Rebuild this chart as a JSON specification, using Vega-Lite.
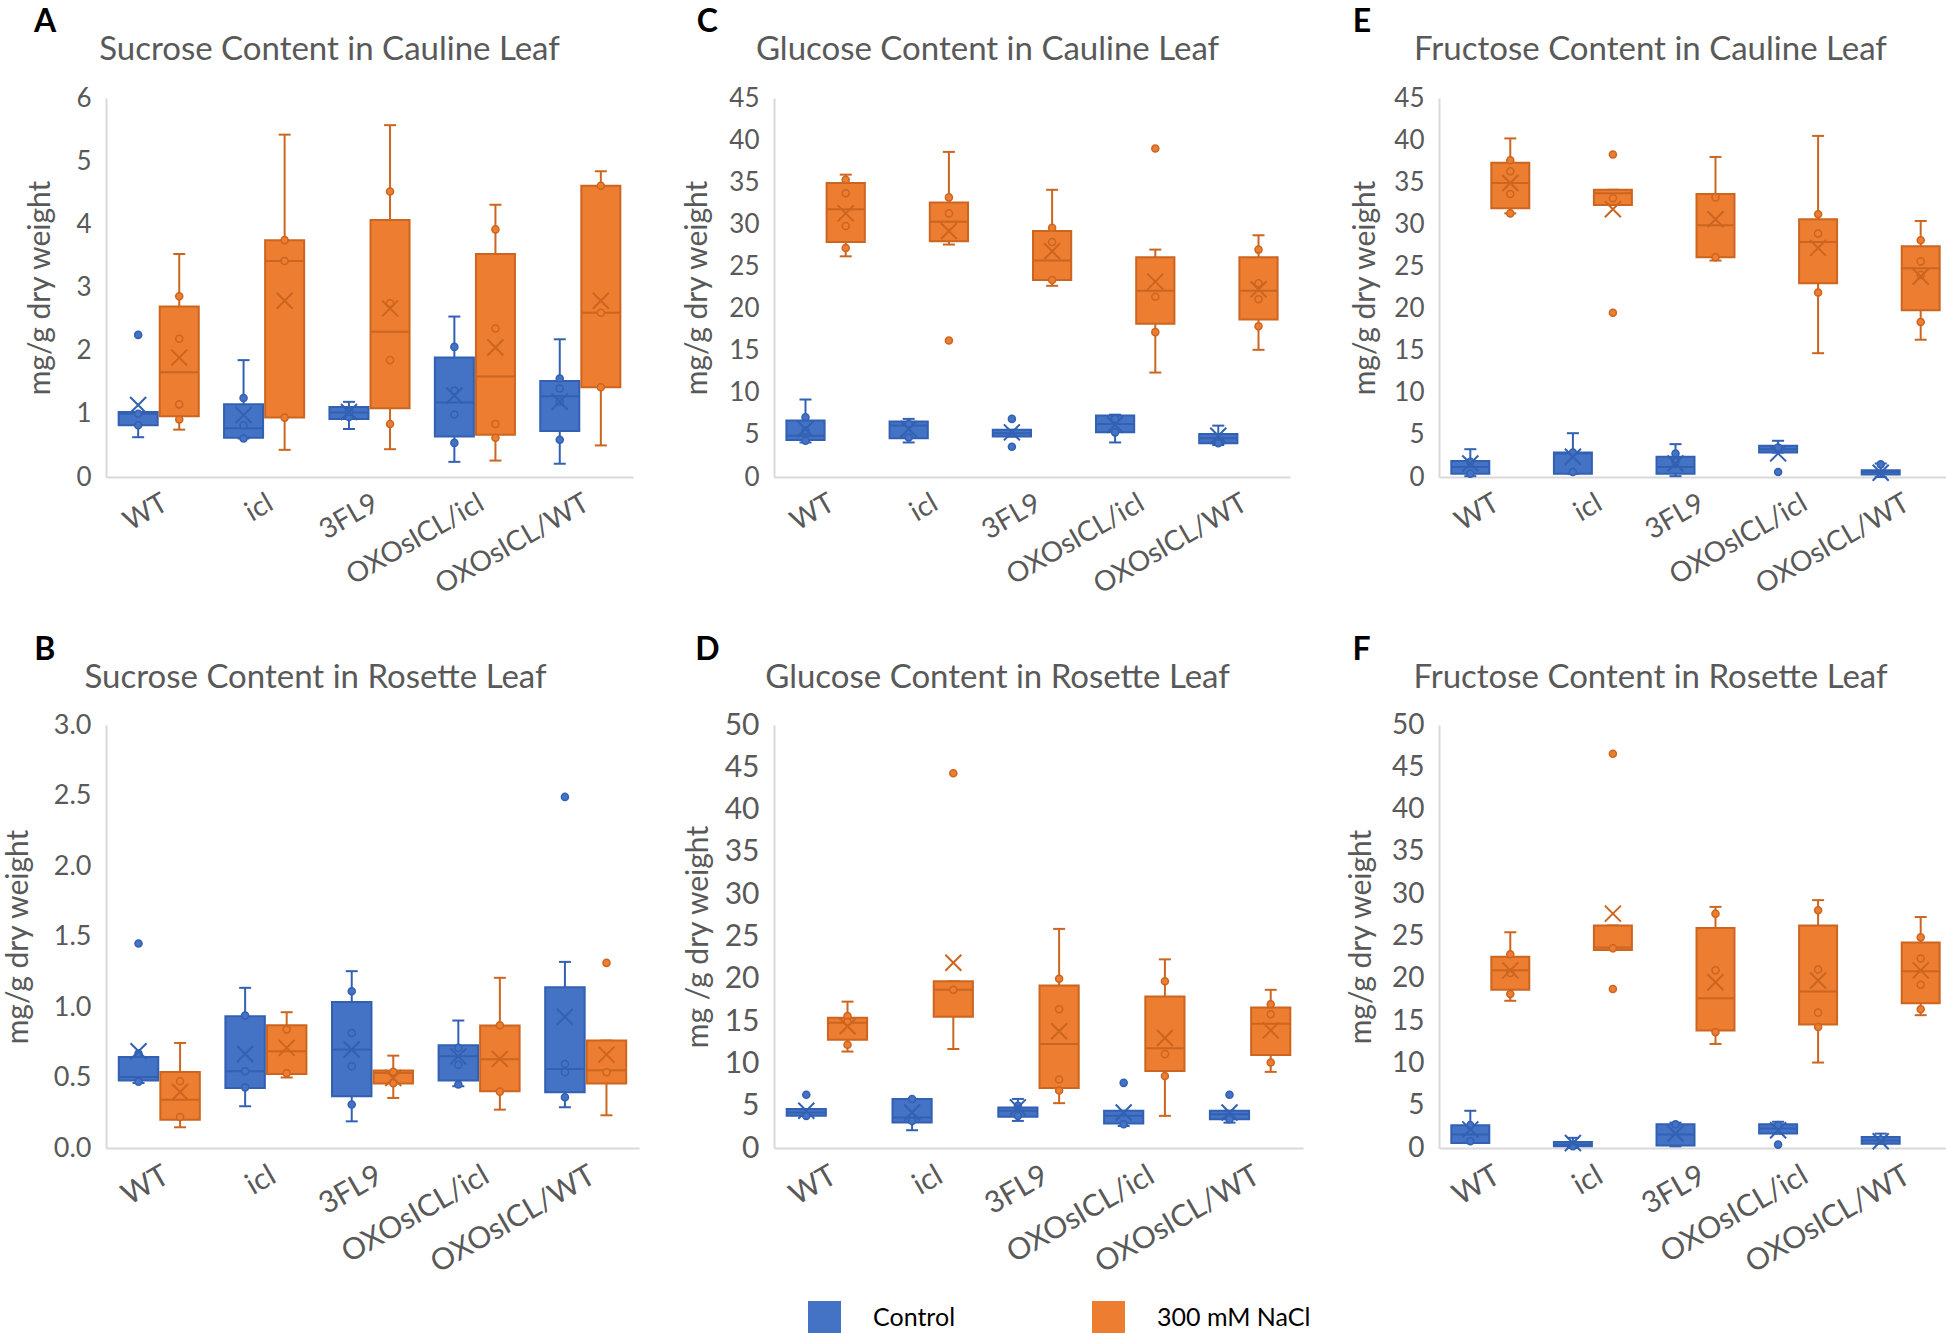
{
"$schema":"https://vega.github.io/schema/vega-lite/v6.json",
"padding":{"left":3,"top":6,"right":0,"bottom":60},
"autosize":{"type":"pad"},
"config":{
 "font":"Lato",
 "view":{"stroke":null},
 "axis":{"domainColor":"#D9D9D9","domainWidth":2,"ticks":false,"grid":false,"labelColor":"#595959","titleColor":"#595959","titleFontWeight":"normal","titleFontSize":30,"labelPadding":15},
 "axisX":{"labelAngle":-30,"labelFontSize":28,"labelOverlap":false,"labelLimit":400,"labelPadding":12}
},
"datasets":{
"boxes":[
{"p":"A","g":"WT","t":"Control","lo":0.63,"q1":0.82,"md":1.0,"q3":1.03,"hi":1.03,"mn":1.14},
{"p":"A","g":"WT","t":"300 mM NaCl","lo":0.75,"q1":0.96,"md":1.66,"q3":2.70,"hi":3.53,"mn":1.89},
{"p":"A","g":"icl","t":"Control","lo":0.61,"q1":0.62,"md":0.77,"q3":1.15,"hi":1.85,"mn":0.98},
{"p":"A","g":"icl","t":"300 mM NaCl","lo":0.43,"q1":0.94,"md":3.42,"q3":3.75,"hi":5.42,"mn":2.79},
{"p":"A","g":"3FL9","t":"Control","lo":0.76,"q1":0.92,"md":1.02,"q3":1.11,"hi":1.19,"mn":1.03},
{"p":"A","g":"3FL9","t":"300 mM NaCl","lo":0.44,"q1":1.09,"md":2.30,"q3":4.07,"hi":5.57,"mn":2.67},
{"p":"A","g":"OXOsICL/icl","t":"Control","lo":0.24,"q1":0.64,"md":1.18,"q3":1.89,"hi":2.54,"mn":1.29},
{"p":"A","g":"OXOsICL/icl","t":"300 mM NaCl","lo":0.26,"q1":0.67,"md":1.59,"q3":3.53,"hi":4.31,"mn":2.05},
{"p":"A","g":"OXOsICL/WT","t":"Control","lo":0.21,"q1":0.73,"md":1.28,"q3":1.52,"hi":2.18,"mn":1.19},
{"p":"A","g":"OXOsICL/WT","t":"300 mM NaCl","lo":0.50,"q1":1.42,"md":2.60,"q3":4.61,"hi":4.84,"mn":2.79},
{"p":"C","g":"WT","t":"Control","lo":4.1,"q1":4.4,"md":4.9,"q3":6.7,"hi":9.2,"mn":5.7},
{"p":"C","g":"WT","t":"300 mM NaCl","lo":26.2,"q1":27.9,"md":31.8,"q3":34.9,"hi":35.9,"mn":31.3},
{"p":"C","g":"icl","t":"Control","lo":4.1,"q1":4.6,"md":6.1,"q3":6.6,"hi":6.9,"mn":5.7},
{"p":"C","g":"icl","t":"300 mM NaCl","lo":27.6,"q1":28.0,"md":30.3,"q3":32.6,"hi":38.6,"mn":29.2},
{"p":"C","g":"3FL9","t":"Control","lo":4.8,"q1":4.8,"md":5.2,"q3":5.6,"hi":5.6,"mn":5.3},
{"p":"C","g":"3FL9","t":"300 mM NaCl","lo":22.7,"q1":23.4,"md":25.7,"q3":29.2,"hi":34.1,"mn":26.8},
{"p":"C","g":"OXOsICL/icl","t":"Control","lo":4.1,"q1":5.3,"md":6.3,"q3":7.3,"hi":7.4,"mn":6.2},
{"p":"C","g":"OXOsICL/icl","t":"300 mM NaCl","lo":12.4,"q1":18.2,"md":22.1,"q3":26.1,"hi":27.0,"mn":23.2},
{"p":"C","g":"OXOsICL/WT","t":"Control","lo":3.8,"q1":4.0,"md":4.6,"q3":5.1,"hi":6.1,"mn":4.9},
{"p":"C","g":"OXOsICL/WT","t":"300 mM NaCl","lo":15.1,"q1":18.7,"md":22.1,"q3":26.1,"hi":28.7,"mn":22.3},
{"p":"E","g":"WT","t":"Control","lo":0.1,"q1":0.4,"md":1.2,"q3":1.9,"hi":3.3,"mn":1.6},
{"p":"E","g":"WT","t":"300 mM NaCl","lo":31.3,"q1":31.9,"md":34.9,"q3":37.3,"hi":40.2,"mn":34.9},
{"p":"E","g":"icl","t":"Control","lo":0.4,"q1":0.4,"md":2.8,"q3":2.9,"hi":5.2,"mn":2.4},
{"p":"E","g":"icl","t":"300 mM NaCl","lo":32.3,"q1":32.3,"md":33.7,"q3":34.1,"hi":34.1,"mn":31.8},
{"p":"E","g":"3FL9","t":"Control","lo":0.1,"q1":0.4,"md":1.2,"q3":2.4,"hi":3.9,"mn":1.6},
{"p":"E","g":"3FL9","t":"300 mM NaCl","lo":25.7,"q1":26.1,"md":29.9,"q3":33.6,"hi":38.0,"mn":30.6},
{"p":"E","g":"OXOsICL/icl","t":"Control","lo":2.9,"q1":2.9,"md":3.3,"q3":3.7,"hi":4.3,"mn":2.8},
{"p":"E","g":"OXOsICL/icl","t":"300 mM NaCl","lo":14.7,"q1":23.0,"md":27.9,"q3":30.6,"hi":40.5,"mn":27.2},
{"p":"E","g":"OXOsICL/WT","t":"Control","lo":0.0,"q1":0.3,"md":0.6,"q3":0.8,"hi":1.6,"mn":0.5},
{"p":"E","g":"OXOsICL/WT","t":"300 mM NaCl","lo":16.3,"q1":19.8,"md":24.8,"q3":27.4,"hi":30.4,"mn":23.8},
{"p":"B","g":"WT","t":"Control","lo":0.461,"q1":0.478,"md":0.504,"q3":0.646,"hi":0.646,"mn":0.686},
{"p":"B","g":"WT","t":"300 mM NaCl","lo":0.147,"q1":0.201,"md":0.343,"q3":0.539,"hi":0.745,"mn":0.397},
{"p":"B","g":"icl","t":"Control","lo":0.296,"q1":0.426,"md":0.544,"q3":0.934,"hi":1.136,"mn":0.667},
{"p":"B","g":"icl","t":"300 mM NaCl","lo":0.50,"q1":0.525,"md":0.686,"q3":0.871,"hi":0.963,"mn":0.71},
{"p":"B","g":"3FL9","t":"Control","lo":0.189,"q1":0.367,"md":0.698,"q3":1.036,"hi":1.254,"mn":0.698},
{"p":"B","g":"3FL9","t":"300 mM NaCl","lo":0.355,"q1":0.457,"md":0.532,"q3":0.549,"hi":0.655,"mn":0.497},
{"p":"B","g":"OXOsICL/icl","t":"Control","lo":0.438,"q1":0.478,"md":0.651,"q3":0.729,"hi":0.904,"mn":0.65},
{"p":"B","g":"OXOsICL/icl","t":"300 mM NaCl","lo":0.272,"q1":0.402,"md":0.63,"q3":0.868,"hi":1.207,"mn":0.632},
{"p":"B","g":"OXOsICL/WT","t":"Control","lo":0.289,"q1":0.395,"md":0.561,"q3":1.14,"hi":1.32,"mn":0.93},
{"p":"B","g":"OXOsICL/WT","t":"300 mM NaCl","lo":0.232,"q1":0.457,"md":0.551,"q3":0.762,"hi":0.762,"mn":0.662},
{"p":"D","g":"WT","t":"Control","lo":3.8,"q1":3.8,"md":4.2,"q3":4.6,"hi":4.6,"mn":4.4},
{"p":"D","g":"WT","t":"300 mM NaCl","lo":11.4,"q1":12.8,"md":14.8,"q3":15.4,"hi":17.3,"mn":14.4},
{"p":"D","g":"icl","t":"Control","lo":2.1,"q1":3.0,"md":3.6,"q3":5.8,"hi":5.8,"mn":4.2},
{"p":"D","g":"icl","t":"300 mM NaCl","lo":11.7,"q1":15.5,"md":18.7,"q3":19.7,"hi":19.7,"mn":21.9},
{"p":"D","g":"3FL9","t":"Control","lo":3.2,"q1":3.7,"md":4.4,"q3":4.8,"hi":5.8,"mn":4.8},
{"p":"D","g":"3FL9","t":"300 mM NaCl","lo":5.3,"q1":7.1,"md":12.3,"q3":19.2,"hi":25.9,"mn":13.8},
{"p":"D","g":"OXOsICL/icl","t":"Control","lo":2.6,"q1":2.9,"md":3.8,"q3":4.4,"hi":4.4,"mn":4.2},
{"p":"D","g":"OXOsICL/icl","t":"300 mM NaCl","lo":3.8,"q1":9.1,"md":11.8,"q3":17.9,"hi":22.3,"mn":13.0},
{"p":"D","g":"OXOsICL/WT","t":"Control","lo":3.0,"q1":3.4,"md":4.0,"q3":4.4,"hi":4.4,"mn":4.2},
{"p":"D","g":"OXOsICL/WT","t":"300 mM NaCl","lo":9.0,"q1":11.0,"md":14.7,"q3":16.6,"hi":18.7,"mn":13.9},
{"p":"F","g":"WT","t":"Control","lo":0.6,"q1":0.6,"md":1.6,"q3":2.7,"hi":4.4,"mn":2.2},
{"p":"F","g":"WT","t":"300 mM NaCl","lo":17.4,"q1":18.7,"md":21.0,"q3":22.6,"hi":25.5,"mn":21.0},
{"p":"F","g":"icl","t":"Control","lo":0.0,"q1":0.2,"md":0.4,"q3":0.7,"hi":1.2,"mn":0.6},
{"p":"F","g":"icl","t":"300 mM NaCl","lo":23.4,"q1":23.4,"md":23.7,"q3":26.3,"hi":26.3,"mn":27.7},
{"p":"F","g":"3FL9","t":"Control","lo":0.2,"q1":0.3,"md":1.6,"q3":2.8,"hi":3.0,"mn":1.7},
{"p":"F","g":"3FL9","t":"300 mM NaCl","lo":12.3,"q1":13.9,"md":17.7,"q3":26.0,"hi":28.5,"mn":19.6},
{"p":"F","g":"OXOsICL/icl","t":"Control","lo":1.7,"q1":1.7,"md":2.3,"q3":2.8,"hi":3.1,"mn":2.1},
{"p":"F","g":"OXOsICL/icl","t":"300 mM NaCl","lo":10.1,"q1":14.6,"md":18.5,"q3":26.3,"hi":29.3,"mn":19.8},
{"p":"F","g":"OXOsICL/WT","t":"Control","lo":0.5,"q1":0.5,"md":0.9,"q3":1.3,"hi":1.7,"mn":0.8},
{"p":"F","g":"OXOsICL/WT","t":"300 mM NaCl","lo":15.7,"q1":17.1,"md":20.9,"q3":24.3,"hi":27.3,"mn":21.0}
],
"points":[
{"p":"A","g":"WT","t":"Control","v":2.25},{"p":"A","g":"WT","t":"Control","v":1.0},{"p":"A","g":"WT","t":"Control","v":0.82},
{"p":"A","g":"WT","t":"300 mM NaCl","v":2.86},{"p":"A","g":"WT","t":"300 mM NaCl","v":2.19},{"p":"A","g":"WT","t":"300 mM NaCl","v":1.15},{"p":"A","g":"WT","t":"300 mM NaCl","v":0.91},
{"p":"A","g":"icl","t":"Control","v":1.25},{"p":"A","g":"icl","t":"Control","v":0.82},{"p":"A","g":"icl","t":"Control","v":0.61},
{"p":"A","g":"icl","t":"300 mM NaCl","v":3.75},{"p":"A","g":"icl","t":"300 mM NaCl","v":3.42},{"p":"A","g":"icl","t":"300 mM NaCl","v":0.94},
{"p":"A","g":"3FL9","t":"Control","v":0.95},{"p":"A","g":"3FL9","t":"Control","v":1.03},
{"p":"A","g":"3FL9","t":"300 mM NaCl","v":4.52},{"p":"A","g":"3FL9","t":"300 mM NaCl","v":2.75},{"p":"A","g":"3FL9","t":"300 mM NaCl","v":1.85},{"p":"A","g":"3FL9","t":"300 mM NaCl","v":0.84},
{"p":"A","g":"OXOsICL/icl","t":"Control","v":2.06},{"p":"A","g":"OXOsICL/icl","t":"Control","v":1.37},{"p":"A","g":"OXOsICL/icl","t":"Control","v":0.99},{"p":"A","g":"OXOsICL/icl","t":"Control","v":0.54},
{"p":"A","g":"OXOsICL/icl","t":"300 mM NaCl","v":3.92},{"p":"A","g":"OXOsICL/icl","t":"300 mM NaCl","v":2.35},{"p":"A","g":"OXOsICL/icl","t":"300 mM NaCl","v":0.84},{"p":"A","g":"OXOsICL/icl","t":"300 mM NaCl","v":0.62},
{"p":"A","g":"OXOsICL/WT","t":"Control","v":1.56},{"p":"A","g":"OXOsICL/WT","t":"Control","v":1.40},{"p":"A","g":"OXOsICL/WT","t":"Control","v":1.19},{"p":"A","g":"OXOsICL/WT","t":"Control","v":0.59},
{"p":"A","g":"OXOsICL/WT","t":"300 mM NaCl","v":4.61},{"p":"A","g":"OXOsICL/WT","t":"300 mM NaCl","v":2.60},{"p":"A","g":"OXOsICL/WT","t":"300 mM NaCl","v":1.42},
{"p":"C","g":"WT","t":"Control","v":7.1},{"p":"C","g":"WT","t":"Control","v":5.5},{"p":"C","g":"WT","t":"Control","v":4.3},
{"p":"C","g":"WT","t":"300 mM NaCl","v":35.3},{"p":"C","g":"WT","t":"300 mM NaCl","v":33.7},{"p":"C","g":"WT","t":"300 mM NaCl","v":29.8},{"p":"C","g":"WT","t":"300 mM NaCl","v":27.2},
{"p":"C","g":"icl","t":"Control","v":6.3},{"p":"C","g":"icl","t":"Control","v":4.7},
{"p":"C","g":"icl","t":"300 mM NaCl","v":33.2},{"p":"C","g":"icl","t":"300 mM NaCl","v":31.3},{"p":"C","g":"icl","t":"300 mM NaCl","v":16.2},
{"p":"C","g":"3FL9","t":"Control","v":6.9},{"p":"C","g":"3FL9","t":"Control","v":3.6},
{"p":"C","g":"3FL9","t":"300 mM NaCl","v":29.6},{"p":"C","g":"3FL9","t":"300 mM NaCl","v":27.9},{"p":"C","g":"3FL9","t":"300 mM NaCl","v":23.4},
{"p":"C","g":"OXOsICL/icl","t":"Control","v":6.9},{"p":"C","g":"OXOsICL/icl","t":"Control","v":5.3},
{"p":"C","g":"OXOsICL/icl","t":"300 mM NaCl","v":39.0},{"p":"C","g":"OXOsICL/icl","t":"300 mM NaCl","v":21.4},{"p":"C","g":"OXOsICL/icl","t":"300 mM NaCl","v":17.2},
{"p":"C","g":"OXOsICL/WT","t":"Control","v":4.0},
{"p":"C","g":"OXOsICL/WT","t":"300 mM NaCl","v":27.0},{"p":"C","g":"OXOsICL/WT","t":"300 mM NaCl","v":23.0},{"p":"C","g":"OXOsICL/WT","t":"300 mM NaCl","v":21.1},{"p":"C","g":"OXOsICL/WT","t":"300 mM NaCl","v":17.9},
{"p":"E","g":"WT","t":"Control","v":1.8},{"p":"E","g":"WT","t":"Control","v":0.4},
{"p":"E","g":"WT","t":"300 mM NaCl","v":37.6},{"p":"E","g":"WT","t":"300 mM NaCl","v":36.3},{"p":"E","g":"WT","t":"300 mM NaCl","v":33.6},{"p":"E","g":"WT","t":"300 mM NaCl","v":31.3},
{"p":"E","g":"icl","t":"Control","v":0.6},{"p":"E","g":"icl","t":"Control","v":2.9},
{"p":"E","g":"icl","t":"300 mM NaCl","v":38.3},{"p":"E","g":"icl","t":"300 mM NaCl","v":33.1},{"p":"E","g":"icl","t":"300 mM NaCl","v":19.5},
{"p":"E","g":"3FL9","t":"Control","v":2.8},{"p":"E","g":"3FL9","t":"Control","v":1.8},
{"p":"E","g":"3FL9","t":"300 mM NaCl","v":33.2},{"p":"E","g":"3FL9","t":"300 mM NaCl","v":26.1},
{"p":"E","g":"OXOsICL/icl","t":"Control","v":0.6},{"p":"E","g":"OXOsICL/icl","t":"Control","v":3.5},
{"p":"E","g":"OXOsICL/icl","t":"300 mM NaCl","v":31.2},{"p":"E","g":"OXOsICL/icl","t":"300 mM NaCl","v":28.9},{"p":"E","g":"OXOsICL/icl","t":"300 mM NaCl","v":21.9},
{"p":"E","g":"OXOsICL/WT","t":"Control","v":1.5},
{"p":"E","g":"OXOsICL/WT","t":"300 mM NaCl","v":28.1},{"p":"E","g":"OXOsICL/WT","t":"300 mM NaCl","v":25.6},{"p":"E","g":"OXOsICL/WT","t":"300 mM NaCl","v":24.0},{"p":"E","g":"OXOsICL/WT","t":"300 mM NaCl","v":18.4},
{"p":"B","g":"WT","t":"Control","v":1.45},{"p":"B","g":"WT","t":"Control","v":0.67},{"p":"B","g":"WT","t":"Control","v":0.47},
{"p":"B","g":"WT","t":"300 mM NaCl","v":0.473},{"p":"B","g":"WT","t":"300 mM NaCl","v":0.22},
{"p":"B","g":"icl","t":"Control","v":0.94},{"p":"B","g":"icl","t":"Control","v":0.544},{"p":"B","g":"icl","t":"Control","v":0.43},
{"p":"B","g":"icl","t":"300 mM NaCl","v":0.84},{"p":"B","g":"icl","t":"300 mM NaCl","v":0.53},
{"p":"B","g":"3FL9","t":"Control","v":1.112},{"p":"B","g":"3FL9","t":"Control","v":0.816},{"p":"B","g":"3FL9","t":"Control","v":0.58},{"p":"B","g":"3FL9","t":"Control","v":0.308},
{"p":"B","g":"3FL9","t":"300 mM NaCl","v":0.54},{"p":"B","g":"3FL9","t":"300 mM NaCl","v":0.46},
{"p":"B","g":"OXOsICL/icl","t":"Control","v":0.71},{"p":"B","g":"OXOsICL/icl","t":"Control","v":0.59},{"p":"B","g":"OXOsICL/icl","t":"Control","v":0.45},
{"p":"B","g":"OXOsICL/icl","t":"300 mM NaCl","v":0.87},{"p":"B","g":"OXOsICL/icl","t":"300 mM NaCl","v":0.40},
{"p":"B","g":"OXOsICL/WT","t":"Control","v":2.49},{"p":"B","g":"OXOsICL/WT","t":"Control","v":0.596},{"p":"B","g":"OXOsICL/WT","t":"Control","v":0.537},{"p":"B","g":"OXOsICL/WT","t":"Control","v":0.36},
{"p":"B","g":"OXOsICL/WT","t":"300 mM NaCl","v":1.313},{"p":"B","g":"OXOsICL/WT","t":"300 mM NaCl","v":0.537},
{"p":"D","g":"WT","t":"Control","v":6.3},{"p":"D","g":"WT","t":"Control","v":3.8},
{"p":"D","g":"WT","t":"300 mM NaCl","v":15.6},{"p":"D","g":"WT","t":"300 mM NaCl","v":14.9},{"p":"D","g":"WT","t":"300 mM NaCl","v":12.2},
{"p":"D","g":"icl","t":"Control","v":5.8},{"p":"D","g":"icl","t":"Control","v":3.2},
{"p":"D","g":"icl","t":"300 mM NaCl","v":44.3},{"p":"D","g":"icl","t":"300 mM NaCl","v":18.7},
{"p":"D","g":"3FL9","t":"Control","v":5.0},{"p":"D","g":"3FL9","t":"Control","v":3.8},
{"p":"D","g":"3FL9","t":"300 mM NaCl","v":20.0},{"p":"D","g":"3FL9","t":"300 mM NaCl","v":16.4},{"p":"D","g":"3FL9","t":"300 mM NaCl","v":8.1},{"p":"D","g":"3FL9","t":"300 mM NaCl","v":6.8},
{"p":"D","g":"OXOsICL/icl","t":"Control","v":7.7},{"p":"D","g":"OXOsICL/icl","t":"Control","v":2.8},
{"p":"D","g":"OXOsICL/icl","t":"300 mM NaCl","v":19.7},{"p":"D","g":"OXOsICL/icl","t":"300 mM NaCl","v":11.1},{"p":"D","g":"OXOsICL/icl","t":"300 mM NaCl","v":8.5},
{"p":"D","g":"OXOsICL/WT","t":"Control","v":6.3},{"p":"D","g":"OXOsICL/WT","t":"Control","v":3.4},
{"p":"D","g":"OXOsICL/WT","t":"300 mM NaCl","v":17.0},{"p":"D","g":"OXOsICL/WT","t":"300 mM NaCl","v":15.8},{"p":"D","g":"OXOsICL/WT","t":"300 mM NaCl","v":10.1},
{"p":"F","g":"WT","t":"Control","v":2.7},{"p":"F","g":"WT","t":"Control","v":0.8},
{"p":"F","g":"WT","t":"300 mM NaCl","v":22.9},{"p":"F","g":"WT","t":"300 mM NaCl","v":20.7},{"p":"F","g":"WT","t":"300 mM NaCl","v":18.2},
{"p":"F","g":"icl","t":"Control","v":0.2},
{"p":"F","g":"icl","t":"300 mM NaCl","v":46.6},{"p":"F","g":"icl","t":"300 mM NaCl","v":23.6},{"p":"F","g":"icl","t":"300 mM NaCl","v":18.8},
{"p":"F","g":"3FL9","t":"Control","v":2.8},
{"p":"F","g":"3FL9","t":"300 mM NaCl","v":27.7},{"p":"F","g":"3FL9","t":"300 mM NaCl","v":21.0},{"p":"F","g":"3FL9","t":"300 mM NaCl","v":13.7},
{"p":"F","g":"OXOsICL/icl","t":"Control","v":0.4},{"p":"F","g":"OXOsICL/icl","t":"Control","v":2.7},
{"p":"F","g":"OXOsICL/icl","t":"300 mM NaCl","v":28.1},{"p":"F","g":"OXOsICL/icl","t":"300 mM NaCl","v":21.1},{"p":"F","g":"OXOsICL/icl","t":"300 mM NaCl","v":16.0},{"p":"F","g":"OXOsICL/icl","t":"300 mM NaCl","v":14.3},
{"p":"F","g":"OXOsICL/WT","t":"Control","v":1.0},
{"p":"F","g":"OXOsICL/WT","t":"300 mM NaCl","v":24.9},{"p":"F","g":"OXOsICL/WT","t":"300 mM NaCl","v":22.4},{"p":"F","g":"OXOsICL/WT","t":"300 mM NaCl","v":19.3},{"p":"F","g":"OXOsICL/WT","t":"300 mM NaCl","v":16.4}
]
},
"resolve":{"scale":{"x":"independent","y":"independent","xOffset":"independent","color":"shared","stroke":"shared","fill":"shared"},"legend":{"color":"shared"}},
"columns":3,
"spacing":{"row":34,"column":43},
"concat":[
 {"title":{"text":"A","anchor":"start","frame":"bounds","fontSize":32,"fontWeight":"bold","color":"#000000","offset":-6,"dx":8},
  "width":527,"height":379,
  "resolve":{"axis":{"x":"independent"}},
  "encoding":{
   "x":{"field":"g","type":"nominal","sort":["WT","icl","3FL9","OXOsICL/icl","OXOsICL/WT"],"scale":{"paddingInner":0.24,"paddingOuter":0.12},"axis":null},
   "xOffset":{"field":"t","type":"nominal","sort":["Control","300 mM NaCl"],"scale":{"paddingInner":0.05}},
   "stroke":{"field":"t","type":"nominal","scale":{"domain":["300 mM NaCl","Control"],"range":["#CC651F","#3260B2"]},"legend":null}
  },
  "layer":[
   {"data":{"name":"boxes"},"transform":[{"filter":"datum.p==='A'"}],"mark":{"type":"rule","strokeWidth":2},
    "encoding":{"x":{"field":"g","type":"nominal","sort":["WT","icl","3FL9","OXOsICL/icl","OXOsICL/WT"],"scale":{"paddingInner":0.24,"paddingOuter":0.12},"title":null,"axis":{"orient":"bottom"}},
     "y":{"field":"lo","type":"quantitative","scale":{"domain":[0,6],"nice":false},"title":"mg/g dry weight","axis":{"values":[0,1,2,3,4,5,6],"labelFontSize":26,"titlePadding":20}},"y2":{"field":"hi"}}},
   {"data":{"name":"boxes"},"transform":[{"filter":"datum.p==='A'"}],"mark":{"type":"point","shape":"M-1,0L1,0","filled":false,"size":144,"strokeWidth":2,"opacity":1},
    "encoding":{"y":{"field":"lo","type":"quantitative","scale":{"domain":[0,6],"nice":false},"title":"mg/g dry weight","axis":{"values":[0,1,2,3,4,5,6],"labelFontSize":26,"titlePadding":20}}}},
   {"data":{"name":"boxes"},"transform":[{"filter":"datum.p==='A'"}],"mark":{"type":"point","shape":"M-1,0L1,0","filled":false,"size":144,"strokeWidth":2,"opacity":1},
    "encoding":{"y":{"field":"hi","type":"quantitative","scale":{"domain":[0,6],"nice":false},"title":"mg/g dry weight","axis":{"values":[0,1,2,3,4,5,6],"labelFontSize":26,"titlePadding":20}}}},
   {"data":{"name":"boxes"},"transform":[{"filter":"datum.p==='A'"}],"mark":{"type":"bar","strokeWidth":2},
    "encoding":{"y":{"field":"q1","type":"quantitative","scale":{"domain":[0,6],"nice":false},"title":"mg/g dry weight","axis":{"values":[0,1,2,3,4,5,6],"labelFontSize":26,"titlePadding":20}},"y2":{"field":"q3"},
     "color":{"field":"t","type":"nominal","scale":{"domain":["Control","300 mM NaCl"],"range":["#4472C4","#ED7D31"]},"title":null,"legend":{"orient":"none","legendX":702,"legendY":1203,"direction":"horizontal","symbolType":"square","symbolSize":1089,"symbolStrokeWidth":0,"labelFontSize":25,"labelColor":"#000000","labelOffset":32,"columnPadding":136,"padding":0}}}},
   {"data":{"name":"boxes"},"transform":[{"filter":"datum.p==='A'"}],"mark":{"type":"bar","strokeWidth":2,"fillOpacity":0},
    "encoding":{"y":{"field":"md","type":"quantitative","scale":{"domain":[0,6],"nice":false},"title":"mg/g dry weight","axis":{"values":[0,1,2,3,4,5,6],"labelFontSize":26,"titlePadding":20}},"y2":{"field":"md"}}},
   {"data":{"name":"points"},"transform":[{"filter":"datum.p==='A'"}],"mark":{"type":"point","shape":"circle","filled":true,"size":50,"strokeWidth":1.5,"opacity":1},
    "encoding":{"y":{"field":"v","type":"quantitative","scale":{"domain":[0,6],"nice":false},"title":"mg/g dry weight","axis":{"values":[0,1,2,3,4,5,6],"labelFontSize":26,"titlePadding":20}},
     "fill":{"field":"t","type":"nominal","scale":{"domain":["300 mM NaCl","Control"],"range":["#ED7D31","#4472C4"]},"legend":null}}},
   {"data":{"name":"boxes"},"transform":[{"filter":"datum.p==='A'"}],"mark":{"type":"point","shape":"M-1,-1L1,1M-1,1L1,-1","filled":false,"size":256,"strokeWidth":2,"opacity":1},
    "encoding":{"x":{"field":"g","type":"nominal","sort":["WT","icl","3FL9","OXOsICL/icl","OXOsICL/WT"],"scale":{"paddingInner":0.24,"paddingOuter":0.12},"title":"Sucrose Content in Cauline Leaf","axis":{"orient":"top","domain":false,"labels":false,"ticks":false,"titleFontSize":33,"titleX":223,"titleY":-39,"titleBaseline":"alphabetic","titleAlign":"center"}},
     "y":{"field":"mn","type":"quantitative","scale":{"domain":[0,6],"nice":false},"title":"mg/g dry weight","axis":{"values":[0,1,2,3,4,5,6],"labelFontSize":26,"titlePadding":20}}}}
  ]
 },
 {"title":{"text":"C","anchor":"start","frame":"bounds","fontSize":32,"fontWeight":"bold","color":"#000000","offset":-6,"dx":14},
  "width":516,"height":379,
  "resolve":{"axis":{"x":"independent"}},
  "encoding":{
   "x":{"field":"g","type":"nominal","sort":["WT","icl","3FL9","OXOsICL/icl","OXOsICL/WT"],"scale":{"paddingInner":0.24,"paddingOuter":0.12},"axis":null},
   "xOffset":{"field":"t","type":"nominal","sort":["Control","300 mM NaCl"],"scale":{"paddingInner":0.05}},
   "stroke":{"field":"t","type":"nominal","scale":{"domain":["300 mM NaCl","Control"],"range":["#CC651F","#3260B2"]},"legend":null}
  },
  "layer":[
   {"data":{"name":"boxes"},"transform":[{"filter":"datum.p==='C'"}],"mark":{"type":"rule","strokeWidth":2},
    "encoding":{"x":{"field":"g","type":"nominal","sort":["WT","icl","3FL9","OXOsICL/icl","OXOsICL/WT"],"scale":{"paddingInner":0.24,"paddingOuter":0.12},"title":null,"axis":{"orient":"bottom"}},
     "y":{"field":"lo","type":"quantitative","scale":{"domain":[0,45],"nice":false},"title":"mg/g dry weight","axis":{"values":[0,5,10,15,20,25,30,35,40,45],"labelFontSize":26,"titlePadding":16}},"y2":{"field":"hi"}}},
   {"data":{"name":"boxes"},"transform":[{"filter":"datum.p==='C'"}],"mark":{"type":"point","shape":"M-1,0L1,0","filled":false,"size":144,"strokeWidth":2,"opacity":1},
    "encoding":{"y":{"field":"lo","type":"quantitative","scale":{"domain":[0,45],"nice":false},"title":"mg/g dry weight","axis":{"values":[0,5,10,15,20,25,30,35,40,45],"labelFontSize":26,"titlePadding":16}}}},
   {"data":{"name":"boxes"},"transform":[{"filter":"datum.p==='C'"}],"mark":{"type":"point","shape":"M-1,0L1,0","filled":false,"size":144,"strokeWidth":2,"opacity":1},
    "encoding":{"y":{"field":"hi","type":"quantitative","scale":{"domain":[0,45],"nice":false},"title":"mg/g dry weight","axis":{"values":[0,5,10,15,20,25,30,35,40,45],"labelFontSize":26,"titlePadding":16}}}},
   {"data":{"name":"boxes"},"transform":[{"filter":"datum.p==='C'"}],"mark":{"type":"bar","strokeWidth":2},
    "encoding":{"y":{"field":"q1","type":"quantitative","scale":{"domain":[0,45],"nice":false},"title":"mg/g dry weight","axis":{"values":[0,5,10,15,20,25,30,35,40,45],"labelFontSize":26,"titlePadding":16}},"y2":{"field":"q3"},
     "color":{"field":"t","type":"nominal","scale":{"domain":["Control","300 mM NaCl"],"range":["#4472C4","#ED7D31"]},"title":null,"legend":{"orient":"none","legendX":702,"legendY":1203,"direction":"horizontal","symbolType":"square","symbolSize":1089,"symbolStrokeWidth":0,"labelFontSize":25,"labelColor":"#000000","labelOffset":32,"columnPadding":136,"padding":0}}}},
   {"data":{"name":"boxes"},"transform":[{"filter":"datum.p==='C'"}],"mark":{"type":"bar","strokeWidth":2,"fillOpacity":0},
    "encoding":{"y":{"field":"md","type":"quantitative","scale":{"domain":[0,45],"nice":false},"title":"mg/g dry weight","axis":{"values":[0,5,10,15,20,25,30,35,40,45],"labelFontSize":26,"titlePadding":16}},"y2":{"field":"md"}}},
   {"data":{"name":"points"},"transform":[{"filter":"datum.p==='C'"}],"mark":{"type":"point","shape":"circle","filled":true,"size":50,"strokeWidth":1.5,"opacity":1},
    "encoding":{"y":{"field":"v","type":"quantitative","scale":{"domain":[0,45],"nice":false},"title":"mg/g dry weight","axis":{"values":[0,5,10,15,20,25,30,35,40,45],"labelFontSize":26,"titlePadding":16}},
     "fill":{"field":"t","type":"nominal","scale":{"domain":["300 mM NaCl","Control"],"range":["#ED7D31","#4472C4"]},"legend":null}}},
   {"data":{"name":"boxes"},"transform":[{"filter":"datum.p==='C'"}],"mark":{"type":"point","shape":"M-1,-1L1,1M-1,1L1,-1","filled":false,"size":256,"strokeWidth":2,"opacity":1},
    "encoding":{"x":{"field":"g","type":"nominal","sort":["WT","icl","3FL9","OXOsICL/icl","OXOsICL/WT"],"scale":{"paddingInner":0.24,"paddingOuter":0.12},"title":"Glucose Content in Cauline Leaf","axis":{"orient":"top","domain":false,"labels":false,"ticks":false,"titleFontSize":33,"titleX":213,"titleY":-39,"titleBaseline":"alphabetic","titleAlign":"center"}},
     "y":{"field":"mn","type":"quantitative","scale":{"domain":[0,45],"nice":false},"title":"mg/g dry weight","axis":{"values":[0,5,10,15,20,25,30,35,40,45],"labelFontSize":26,"titlePadding":16}}}}
  ]
 },
 {"title":{"text":"E","anchor":"start","frame":"bounds","fontSize":32,"fontWeight":"bold","color":"#000000","offset":-6,"dx":2},
  "width":513,"height":379,
  "resolve":{"axis":{"x":"independent"}},
  "encoding":{
   "x":{"field":"g","type":"nominal","sort":["WT","icl","3FL9","OXOsICL/icl","OXOsICL/WT"],"scale":{"paddingInner":0.24,"paddingOuter":0.12},"axis":null},
   "xOffset":{"field":"t","type":"nominal","sort":["Control","300 mM NaCl"],"scale":{"paddingInner":0.05}},
   "stroke":{"field":"t","type":"nominal","scale":{"domain":["300 mM NaCl","Control"],"range":["#CC651F","#3260B2"]},"legend":null}
  },
  "layer":[
   {"data":{"name":"boxes"},"transform":[{"filter":"datum.p==='E'"}],"mark":{"type":"rule","strokeWidth":2},
    "encoding":{"x":{"field":"g","type":"nominal","sort":["WT","icl","3FL9","OXOsICL/icl","OXOsICL/WT"],"scale":{"paddingInner":0.24,"paddingOuter":0.12},"title":null,"axis":{"orient":"bottom"}},
     "y":{"field":"lo","type":"quantitative","scale":{"domain":[0,45],"nice":false},"title":"mg/g dry weight","axis":{"values":[0,5,10,15,20,25,30,35,40,45],"labelFontSize":26,"titlePadding":13}},"y2":{"field":"hi"}}},
   {"data":{"name":"boxes"},"transform":[{"filter":"datum.p==='E'"}],"mark":{"type":"point","shape":"M-1,0L1,0","filled":false,"size":144,"strokeWidth":2,"opacity":1},
    "encoding":{"y":{"field":"lo","type":"quantitative","scale":{"domain":[0,45],"nice":false},"title":"mg/g dry weight","axis":{"values":[0,5,10,15,20,25,30,35,40,45],"labelFontSize":26,"titlePadding":13}}}},
   {"data":{"name":"boxes"},"transform":[{"filter":"datum.p==='E'"}],"mark":{"type":"point","shape":"M-1,0L1,0","filled":false,"size":144,"strokeWidth":2,"opacity":1},
    "encoding":{"y":{"field":"hi","type":"quantitative","scale":{"domain":[0,45],"nice":false},"title":"mg/g dry weight","axis":{"values":[0,5,10,15,20,25,30,35,40,45],"labelFontSize":26,"titlePadding":13}}}},
   {"data":{"name":"boxes"},"transform":[{"filter":"datum.p==='E'"}],"mark":{"type":"bar","strokeWidth":2},
    "encoding":{"y":{"field":"q1","type":"quantitative","scale":{"domain":[0,45],"nice":false},"title":"mg/g dry weight","axis":{"values":[0,5,10,15,20,25,30,35,40,45],"labelFontSize":26,"titlePadding":13}},"y2":{"field":"q3"},
     "color":{"field":"t","type":"nominal","scale":{"domain":["Control","300 mM NaCl"],"range":["#4472C4","#ED7D31"]},"title":null,"legend":{"orient":"none","legendX":702,"legendY":1203,"direction":"horizontal","symbolType":"square","symbolSize":1089,"symbolStrokeWidth":0,"labelFontSize":25,"labelColor":"#000000","labelOffset":32,"columnPadding":136,"padding":0}}}},
   {"data":{"name":"boxes"},"transform":[{"filter":"datum.p==='E'"}],"mark":{"type":"bar","strokeWidth":2,"fillOpacity":0},
    "encoding":{"y":{"field":"md","type":"quantitative","scale":{"domain":[0,45],"nice":false},"title":"mg/g dry weight","axis":{"values":[0,5,10,15,20,25,30,35,40,45],"labelFontSize":26,"titlePadding":13}},"y2":{"field":"md"}}},
   {"data":{"name":"points"},"transform":[{"filter":"datum.p==='E'"}],"mark":{"type":"point","shape":"circle","filled":true,"size":50,"strokeWidth":1.5,"opacity":1},
    "encoding":{"y":{"field":"v","type":"quantitative","scale":{"domain":[0,45],"nice":false},"title":"mg/g dry weight","axis":{"values":[0,5,10,15,20,25,30,35,40,45],"labelFontSize":26,"titlePadding":13}},
     "fill":{"field":"t","type":"nominal","scale":{"domain":["300 mM NaCl","Control"],"range":["#ED7D31","#4472C4"]},"legend":null}}},
   {"data":{"name":"boxes"},"transform":[{"filter":"datum.p==='E'"}],"mark":{"type":"point","shape":"M-1,-1L1,1M-1,1L1,-1","filled":false,"size":256,"strokeWidth":2,"opacity":1},
    "encoding":{"x":{"field":"g","type":"nominal","sort":["WT","icl","3FL9","OXOsICL/icl","OXOsICL/WT"],"scale":{"paddingInner":0.24,"paddingOuter":0.12},"title":"Fructose Content in Cauline Leaf","axis":{"orient":"top","domain":false,"labels":false,"ticks":false,"titleFontSize":33,"titleX":211,"titleY":-39,"titleBaseline":"alphabetic","titleAlign":"center"}},
     "y":{"field":"mn","type":"quantitative","scale":{"domain":[0,45],"nice":false},"title":"mg/g dry weight","axis":{"values":[0,5,10,15,20,25,30,35,40,45],"labelFontSize":26,"titlePadding":13}}}}
  ]
 },
 {"title":{"text":"B","anchor":"start","frame":"bounds","fontSize":32,"fontWeight":"bold","color":"#000000","offset":-6,"dx":31},
  "width":533,"height":423,
  "resolve":{"axis":{"x":"independent"}},
  "encoding":{
   "x":{"field":"g","type":"nominal","sort":["WT","icl","3FL9","OXOsICL/icl","OXOsICL/WT"],"scale":{"paddingInner":0.24,"paddingOuter":0.12},"axis":null},
   "xOffset":{"field":"t","type":"nominal","sort":["Control","300 mM NaCl"],"scale":{"paddingInner":0.05}},
   "stroke":{"field":"t","type":"nominal","scale":{"domain":["300 mM NaCl","Control"],"range":["#CC651F","#3260B2"]},"legend":null}
  },
  "layer":[
   {"data":{"name":"boxes"},"transform":[{"filter":"datum.p==='B'"}],"mark":{"type":"rule","strokeWidth":2},
    "encoding":{"x":{"field":"g","type":"nominal","sort":["WT","icl","3FL9","OXOsICL/icl","OXOsICL/WT"],"scale":{"paddingInner":0.24,"paddingOuter":0.12},"title":null,"axis":{"orient":"bottom","labelFontSize":30}},
     "y":{"field":"lo","type":"quantitative","scale":{"domain":[0,3],"nice":false},"title":"mg/g dry weight","axis":{"values":[0,0.5,1,1.5,2,2.5,3],"format":".1f","labelFontSize":27,"titlePadding":20}},"y2":{"field":"hi"}}},
   {"data":{"name":"boxes"},"transform":[{"filter":"datum.p==='B'"}],"mark":{"type":"point","shape":"M-1,0L1,0","filled":false,"size":144,"strokeWidth":2,"opacity":1},
    "encoding":{"y":{"field":"lo","type":"quantitative","scale":{"domain":[0,3],"nice":false},"title":"mg/g dry weight","axis":{"values":[0,0.5,1,1.5,2,2.5,3],"format":".1f","labelFontSize":27,"titlePadding":20}}}},
   {"data":{"name":"boxes"},"transform":[{"filter":"datum.p==='B'"}],"mark":{"type":"point","shape":"M-1,0L1,0","filled":false,"size":144,"strokeWidth":2,"opacity":1},
    "encoding":{"y":{"field":"hi","type":"quantitative","scale":{"domain":[0,3],"nice":false},"title":"mg/g dry weight","axis":{"values":[0,0.5,1,1.5,2,2.5,3],"format":".1f","labelFontSize":27,"titlePadding":20}}}},
   {"data":{"name":"boxes"},"transform":[{"filter":"datum.p==='B'"}],"mark":{"type":"bar","strokeWidth":2},
    "encoding":{"y":{"field":"q1","type":"quantitative","scale":{"domain":[0,3],"nice":false},"title":"mg/g dry weight","axis":{"values":[0,0.5,1,1.5,2,2.5,3],"format":".1f","labelFontSize":27,"titlePadding":20}},"y2":{"field":"q3"},
     "color":{"field":"t","type":"nominal","scale":{"domain":["Control","300 mM NaCl"],"range":["#4472C4","#ED7D31"]},"title":null,"legend":{"orient":"none","legendX":702,"legendY":1203,"direction":"horizontal","symbolType":"square","symbolSize":1089,"symbolStrokeWidth":0,"labelFontSize":25,"labelColor":"#000000","labelOffset":32,"columnPadding":136,"padding":0}}}},
   {"data":{"name":"boxes"},"transform":[{"filter":"datum.p==='B'"}],"mark":{"type":"bar","strokeWidth":2,"fillOpacity":0},
    "encoding":{"y":{"field":"md","type":"quantitative","scale":{"domain":[0,3],"nice":false},"title":"mg/g dry weight","axis":{"values":[0,0.5,1,1.5,2,2.5,3],"format":".1f","labelFontSize":27,"titlePadding":20}},"y2":{"field":"md"}}},
   {"data":{"name":"points"},"transform":[{"filter":"datum.p==='B'"}],"mark":{"type":"point","shape":"circle","filled":true,"size":50,"strokeWidth":1.5,"opacity":1},
    "encoding":{"y":{"field":"v","type":"quantitative","scale":{"domain":[0,3],"nice":false},"title":"mg/g dry weight","axis":{"values":[0,0.5,1,1.5,2,2.5,3],"format":".1f","labelFontSize":27,"titlePadding":20}},
     "fill":{"field":"t","type":"nominal","scale":{"domain":["300 mM NaCl","Control"],"range":["#ED7D31","#4472C4"]},"legend":null}}},
   {"data":{"name":"boxes"},"transform":[{"filter":"datum.p==='B'"}],"mark":{"type":"point","shape":"M-1,-1L1,1M-1,1L1,-1","filled":false,"size":256,"strokeWidth":2,"opacity":1},
    "encoding":{"x":{"field":"g","type":"nominal","sort":["WT","icl","3FL9","OXOsICL/icl","OXOsICL/WT"],"scale":{"paddingInner":0.24,"paddingOuter":0.12},"title":"Sucrose Content in Rosette Leaf","axis":{"orient":"top","domain":false,"labels":false,"ticks":false,"titleFontSize":33,"titleX":209,"titleY":-38,"titleBaseline":"alphabetic","titleAlign":"center"}},
     "y":{"field":"mn","type":"quantitative","scale":{"domain":[0,3],"nice":false},"title":"mg/g dry weight","axis":{"values":[0,0.5,1,1.5,2,2.5,3],"format":".1f","labelFontSize":27,"titlePadding":20}}}}
  ]
 },
 {"title":{"text":"D","anchor":"start","frame":"bounds","fontSize":32,"fontWeight":"bold","color":"#000000","offset":-6,"dx":12},
  "width":529,"height":423,
  "resolve":{"axis":{"x":"independent"}},
  "encoding":{
   "x":{"field":"g","type":"nominal","sort":["WT","icl","3FL9","OXOsICL/icl","OXOsICL/WT"],"scale":{"paddingInner":0.24,"paddingOuter":0.12},"axis":null},
   "xOffset":{"field":"t","type":"nominal","sort":["Control","300 mM NaCl"],"scale":{"paddingInner":0.05}},
   "stroke":{"field":"t","type":"nominal","scale":{"domain":["300 mM NaCl","Control"],"range":["#CC651F","#3260B2"]},"legend":null}
  },
  "layer":[
   {"data":{"name":"boxes"},"transform":[{"filter":"datum.p==='D'"}],"mark":{"type":"rule","strokeWidth":2},
    "encoding":{"x":{"field":"g","type":"nominal","sort":["WT","icl","3FL9","OXOsICL/icl","OXOsICL/WT"],"scale":{"paddingInner":0.24,"paddingOuter":0.12},"title":null,"axis":{"orient":"bottom","labelFontSize":30}},
     "y":{"field":"lo","type":"quantitative","scale":{"domain":[0,50],"nice":false},"title":"mg /g dry weight","axis":{"values":[0,5,10,15,20,25,30,35,40,45,50],"labelFontSize":30,"titlePadding":11}},"y2":{"field":"hi"}}},
   {"data":{"name":"boxes"},"transform":[{"filter":"datum.p==='D'"}],"mark":{"type":"point","shape":"M-1,0L1,0","filled":false,"size":144,"strokeWidth":2,"opacity":1},
    "encoding":{"y":{"field":"lo","type":"quantitative","scale":{"domain":[0,50],"nice":false},"title":"mg /g dry weight","axis":{"values":[0,5,10,15,20,25,30,35,40,45,50],"labelFontSize":30,"titlePadding":11}}}},
   {"data":{"name":"boxes"},"transform":[{"filter":"datum.p==='D'"}],"mark":{"type":"point","shape":"M-1,0L1,0","filled":false,"size":144,"strokeWidth":2,"opacity":1},
    "encoding":{"y":{"field":"hi","type":"quantitative","scale":{"domain":[0,50],"nice":false},"title":"mg /g dry weight","axis":{"values":[0,5,10,15,20,25,30,35,40,45,50],"labelFontSize":30,"titlePadding":11}}}},
   {"data":{"name":"boxes"},"transform":[{"filter":"datum.p==='D'"}],"mark":{"type":"bar","strokeWidth":2},
    "encoding":{"y":{"field":"q1","type":"quantitative","scale":{"domain":[0,50],"nice":false},"title":"mg /g dry weight","axis":{"values":[0,5,10,15,20,25,30,35,40,45,50],"labelFontSize":30,"titlePadding":11}},"y2":{"field":"q3"},
     "color":{"field":"t","type":"nominal","scale":{"domain":["Control","300 mM NaCl"],"range":["#4472C4","#ED7D31"]},"title":null,"legend":{"orient":"none","legendX":702,"legendY":1203,"direction":"horizontal","symbolType":"square","symbolSize":1089,"symbolStrokeWidth":0,"labelFontSize":25,"labelColor":"#000000","labelOffset":32,"columnPadding":136,"padding":0}}}},
   {"data":{"name":"boxes"},"transform":[{"filter":"datum.p==='D'"}],"mark":{"type":"bar","strokeWidth":2,"fillOpacity":0},
    "encoding":{"y":{"field":"md","type":"quantitative","scale":{"domain":[0,50],"nice":false},"title":"mg /g dry weight","axis":{"values":[0,5,10,15,20,25,30,35,40,45,50],"labelFontSize":30,"titlePadding":11}},"y2":{"field":"md"}}},
   {"data":{"name":"points"},"transform":[{"filter":"datum.p==='D'"}],"mark":{"type":"point","shape":"circle","filled":true,"size":50,"strokeWidth":1.5,"opacity":1},
    "encoding":{"y":{"field":"v","type":"quantitative","scale":{"domain":[0,50],"nice":false},"title":"mg /g dry weight","axis":{"values":[0,5,10,15,20,25,30,35,40,45,50],"labelFontSize":30,"titlePadding":11}},
     "fill":{"field":"t","type":"nominal","scale":{"domain":["300 mM NaCl","Control"],"range":["#ED7D31","#4472C4"]},"legend":null}}},
   {"data":{"name":"boxes"},"transform":[{"filter":"datum.p==='D'"}],"mark":{"type":"point","shape":"M-1,-1L1,1M-1,1L1,-1","filled":false,"size":256,"strokeWidth":2,"opacity":1},
    "encoding":{"x":{"field":"g","type":"nominal","sort":["WT","icl","3FL9","OXOsICL/icl","OXOsICL/WT"],"scale":{"paddingInner":0.24,"paddingOuter":0.12},"title":"Glucose Content in Rosette Leaf","axis":{"orient":"top","domain":false,"labels":false,"ticks":false,"titleFontSize":33,"titleX":223,"titleY":-38,"titleBaseline":"alphabetic","titleAlign":"center"}},
     "y":{"field":"mn","type":"quantitative","scale":{"domain":[0,50],"nice":false},"title":"mg /g dry weight","axis":{"values":[0,5,10,15,20,25,30,35,40,45,50],"labelFontSize":30,"titlePadding":11}}}}
  ]
 },
 {"title":{"text":"F","anchor":"start","frame":"bounds","fontSize":32,"fontWeight":"bold","color":"#000000","offset":-6,"dx":6},
  "width":513,"height":423,
  "resolve":{"axis":{"x":"independent"}},
  "encoding":{
   "x":{"field":"g","type":"nominal","sort":["WT","icl","3FL9","OXOsICL/icl","OXOsICL/WT"],"scale":{"paddingInner":0.24,"paddingOuter":0.12},"axis":null},
   "xOffset":{"field":"t","type":"nominal","sort":["Control","300 mM NaCl"],"scale":{"paddingInner":0.05}},
   "stroke":{"field":"t","type":"nominal","scale":{"domain":["300 mM NaCl","Control"],"range":["#CC651F","#3260B2"]},"legend":null}
  },
  "layer":[
   {"data":{"name":"boxes"},"transform":[{"filter":"datum.p==='F'"}],"mark":{"type":"rule","strokeWidth":2},
    "encoding":{"x":{"field":"g","type":"nominal","sort":["WT","icl","3FL9","OXOsICL/icl","OXOsICL/WT"],"scale":{"paddingInner":0.24,"paddingOuter":0.12},"title":null,"axis":{"orient":"bottom","labelFontSize":30}},
     "y":{"field":"lo","type":"quantitative","scale":{"domain":[0,50],"nice":false},"title":"mg/g dry weight","axis":{"values":[0,5,10,15,20,25,30,35,40,45,50],"labelFontSize":28,"titlePadding":15}},"y2":{"field":"hi"}}},
   {"data":{"name":"boxes"},"transform":[{"filter":"datum.p==='F'"}],"mark":{"type":"point","shape":"M-1,0L1,0","filled":false,"size":144,"strokeWidth":2,"opacity":1},
    "encoding":{"y":{"field":"lo","type":"quantitative","scale":{"domain":[0,50],"nice":false},"title":"mg/g dry weight","axis":{"values":[0,5,10,15,20,25,30,35,40,45,50],"labelFontSize":28,"titlePadding":15}}}},
   {"data":{"name":"boxes"},"transform":[{"filter":"datum.p==='F'"}],"mark":{"type":"point","shape":"M-1,0L1,0","filled":false,"size":144,"strokeWidth":2,"opacity":1},
    "encoding":{"y":{"field":"hi","type":"quantitative","scale":{"domain":[0,50],"nice":false},"title":"mg/g dry weight","axis":{"values":[0,5,10,15,20,25,30,35,40,45,50],"labelFontSize":28,"titlePadding":15}}}},
   {"data":{"name":"boxes"},"transform":[{"filter":"datum.p==='F'"}],"mark":{"type":"bar","strokeWidth":2},
    "encoding":{"y":{"field":"q1","type":"quantitative","scale":{"domain":[0,50],"nice":false},"title":"mg/g dry weight","axis":{"values":[0,5,10,15,20,25,30,35,40,45,50],"labelFontSize":28,"titlePadding":15}},"y2":{"field":"q3"},
     "color":{"field":"t","type":"nominal","scale":{"domain":["Control","300 mM NaCl"],"range":["#4472C4","#ED7D31"]},"title":null,"legend":{"orient":"none","legendX":702,"legendY":1203,"direction":"horizontal","symbolType":"square","symbolSize":1089,"symbolStrokeWidth":0,"labelFontSize":25,"labelColor":"#000000","labelOffset":32,"columnPadding":136,"padding":0}}}},
   {"data":{"name":"boxes"},"transform":[{"filter":"datum.p==='F'"}],"mark":{"type":"bar","strokeWidth":2,"fillOpacity":0},
    "encoding":{"y":{"field":"md","type":"quantitative","scale":{"domain":[0,50],"nice":false},"title":"mg/g dry weight","axis":{"values":[0,5,10,15,20,25,30,35,40,45,50],"labelFontSize":28,"titlePadding":15}},"y2":{"field":"md"}}},
   {"data":{"name":"points"},"transform":[{"filter":"datum.p==='F'"}],"mark":{"type":"point","shape":"circle","filled":true,"size":50,"strokeWidth":1.5,"opacity":1},
    "encoding":{"y":{"field":"v","type":"quantitative","scale":{"domain":[0,50],"nice":false},"title":"mg/g dry weight","axis":{"values":[0,5,10,15,20,25,30,35,40,45,50],"labelFontSize":28,"titlePadding":15}},
     "fill":{"field":"t","type":"nominal","scale":{"domain":["300 mM NaCl","Control"],"range":["#ED7D31","#4472C4"]},"legend":null}}},
   {"data":{"name":"boxes"},"transform":[{"filter":"datum.p==='F'"}],"mark":{"type":"point","shape":"M-1,-1L1,1M-1,1L1,-1","filled":false,"size":256,"strokeWidth":2,"opacity":1},
    "encoding":{"x":{"field":"g","type":"nominal","sort":["WT","icl","3FL9","OXOsICL/icl","OXOsICL/WT"],"scale":{"paddingInner":0.24,"paddingOuter":0.12},"title":"Fructose Content in Rosette Leaf","axis":{"orient":"top","domain":false,"labels":false,"ticks":false,"titleFontSize":33,"titleX":211,"titleY":-38,"titleBaseline":"alphabetic","titleAlign":"center"}},
     "y":{"field":"mn","type":"quantitative","scale":{"domain":[0,50],"nice":false},"title":"mg/g dry weight","axis":{"values":[0,5,10,15,20,25,30,35,40,45,50],"labelFontSize":28,"titlePadding":15}}}}
  ]
 }
]
}
